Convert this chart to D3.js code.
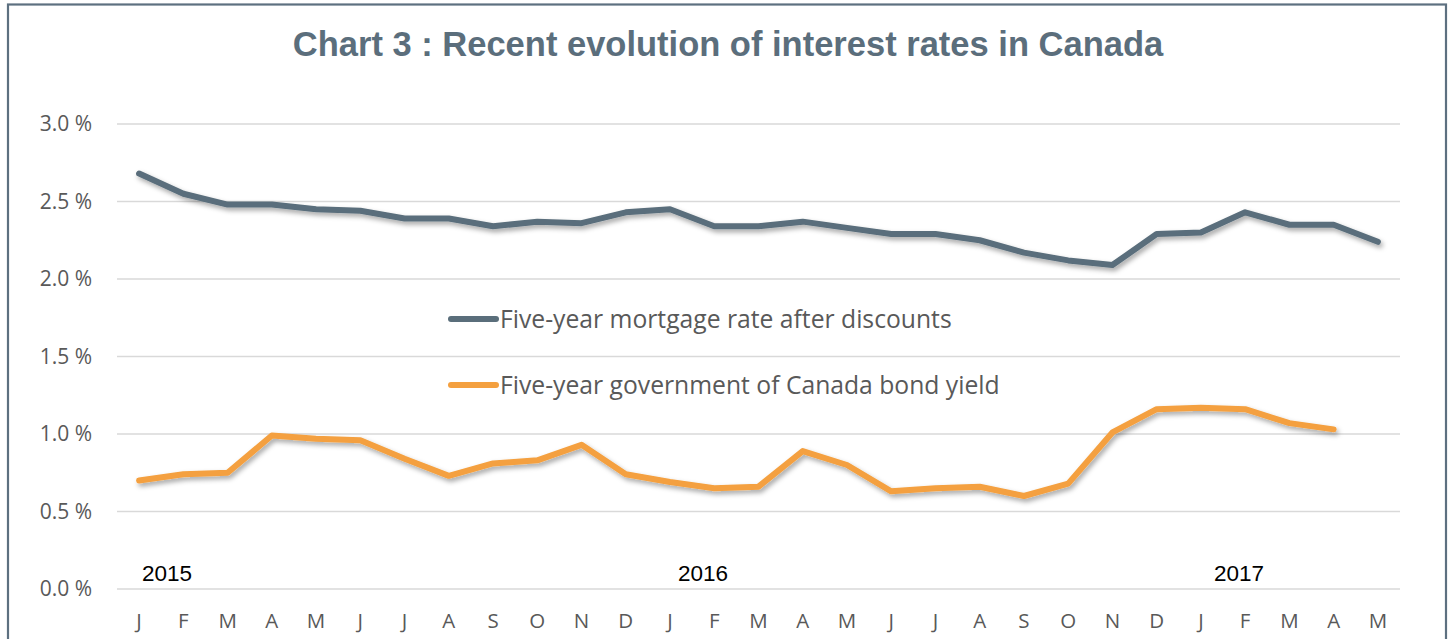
<!DOCTYPE html>
<html><head><meta charset="utf-8">
<script src="https://cdn.jsdelivr.net/npm/d3@7"></script>
<style>html,body{margin:0;padding:0;background:#fff;overflow:hidden}</style>
</head><body><svg id="c" width="1450" height="639"></svg>
<script>
const months = ["J","F","M","A","M","J","J","A","S","O","N","D","J","F","M","A","M","J","J","A","S","O","N","D","J","F","M","A","M"];
const mortgage = [2.68,2.55,2.48,2.48,2.45,2.44,2.39,2.39,2.34,2.37,2.36,2.43,2.45,2.34,2.34,2.37,2.33,2.29,2.29,2.25,2.17,2.12,2.09,2.29,2.30,2.43,2.35,2.35,2.24];
const bond = [0.70,0.74,0.75,0.99,0.97,0.96,0.84,0.73,0.81,0.83,0.93,0.74,0.69,0.65,0.66,0.89,0.80,0.63,0.65,0.66,0.60,0.68,1.01,1.16,1.17,1.16,1.07,1.03];
const years = ["2015","2016","2017"];
const yearStart = [0,12,24];
const yTicks = [0,0.5,1.0,1.5,2.0,2.5,3.0];
const seriesNames = ["Five-year mortgage rate after discounts","Five-year government of Canada bond yield"];
const colors = ["#5a6e7b","#f4a03f"];

const svg = d3.select("#c");
const defs = svg.append("defs");
const f = defs.append("filter").attr("id","sh").attr("x","-10%").attr("y","-50%").attr("width","120%").attr("height","200%");
f.append("feDropShadow").attr("dx",2).attr("dy",3).attr("stdDeviation",2.5).attr("flood-color","#000").attr("flood-opacity",0.35);

// frame
svg.append("rect").attr("x",8).attr("y",4.5).attr("width",1438).attr("height",700)
  .attr("fill","none").attr("stroke","#5d7080").attr("stroke-width",2.2);

svg.append("text").attr("x",728).attr("y",56).attr("text-anchor","middle")
  .attr("font-family","Liberation Sans, Arial, sans-serif").attr("font-weight","bold")
  .attr("font-size",34.5).attr("fill","#5b6e7c").text("Chart 3 : Recent evolution of interest rates in Canada");

const x = d3.scaleBand().domain(d3.range(months.length)).range([117,1400]);
const cx = i => x(i) + x.bandwidth()/2;
const y = d3.scaleLinear().domain([0,3]).range([589,124]);

// grid
svg.append("g").selectAll("line").data(yTicks).join("line")
  .attr("x1",117).attr("x2",1400).attr("y1",d=>y(d)).attr("y2",d=>y(d))
  .attr("stroke","#d9d9d9").attr("stroke-width",1.3);

// y labels
svg.append("g").selectAll("text").data(yTicks).join("text")
  .attr("x",92).attr("y",d=>y(d)+7).attr("text-anchor","end")
  .attr("font-family","Open Sans, sans-serif").attr("font-size",21).attr("fill","#595959")
  .text(d=>d.toFixed(1)+" %");

// month labels
svg.append("g").selectAll("text").data(months).join("text")
  .attr("x",(d,i)=>cx(i)).attr("y",628).attr("text-anchor","middle")
  .attr("font-family","Open Sans, sans-serif").attr("font-size",20.5).attr("fill","#595959")
  .text(d=>d);

// year labels
svg.append("g").selectAll("text").data(years).join("text")
  .attr("x",(d,i)=>cx(yearStart[i]) + 28 + i*5).attr("y",581).attr("text-anchor","middle")
  .attr("font-family","Liberation Sans, Arial, sans-serif").attr("font-size",22.5).attr("fill","#000")
  .text(d=>d);

const line = d3.line().x((d,i)=>cx(i)).y(d=>y(d));
[mortgage,bond].forEach((s,k)=>{
  svg.append("path").datum(s).attr("d",line).attr("fill","none")
    .attr("stroke",colors[k]).attr("stroke-width",6).attr("stroke-linejoin","round").attr("stroke-linecap","round")
    .attr("filter","url(#sh)");
});

// legend
const lg = svg.append("g");
seriesNames.forEach((n,k)=>{
  const ly = 319 + k*66;
  lg.append("line").attr("x1",451).attr("x2",496).attr("y1",ly).attr("y2",ly)
    .attr("stroke",colors[k]).attr("stroke-width",6).attr("stroke-linecap","round");
  lg.append("text").attr("x",500).attr("y",ly+9).attr("font-family","Open Sans, sans-serif")
    .attr("font-size",24.7).attr("fill","#595959").text(n);
});
</script></body></html>
